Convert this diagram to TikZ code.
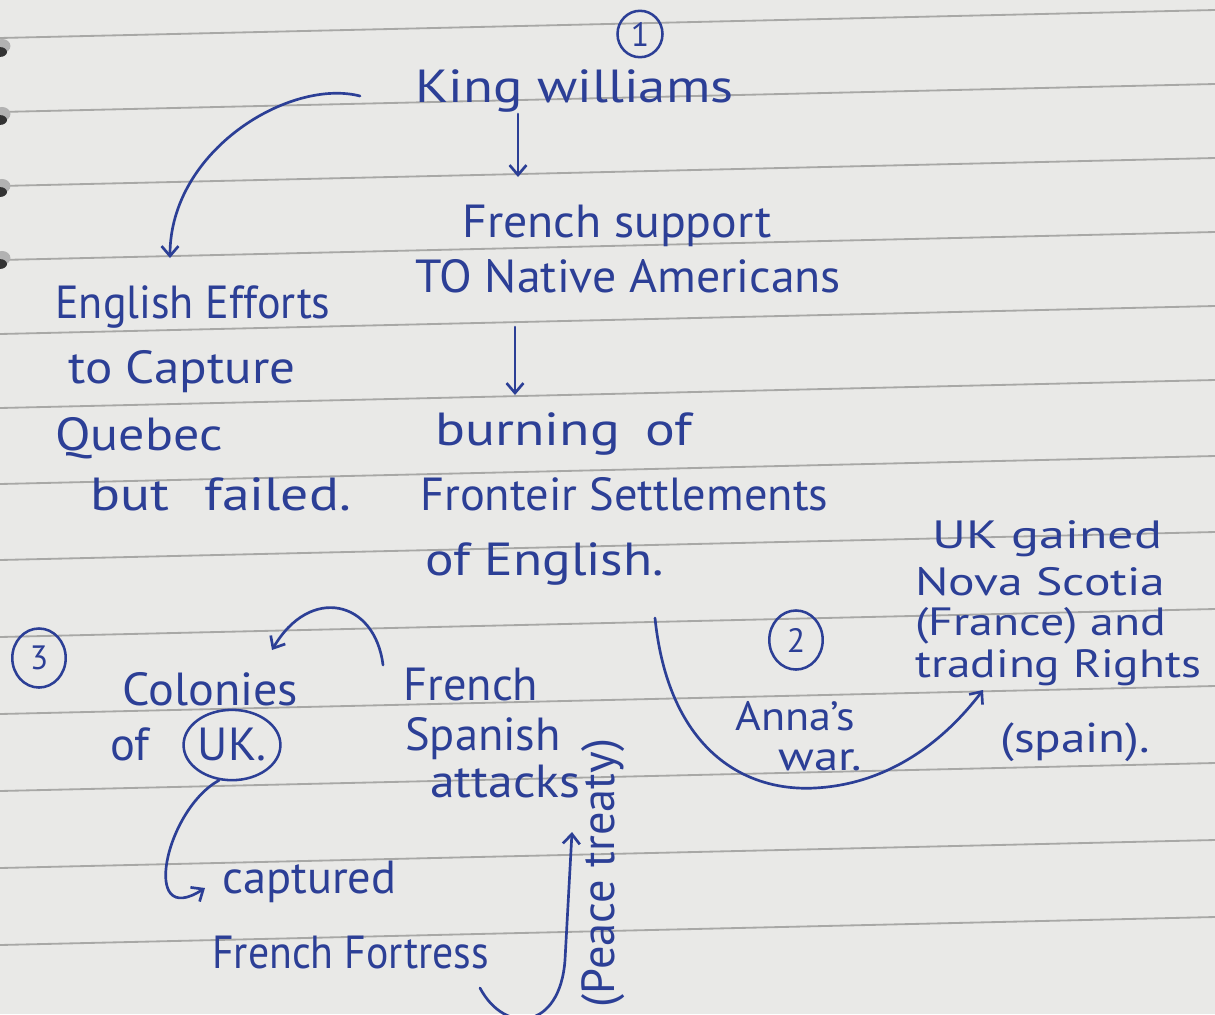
\documentclass[tikz,border=0pt]{standalone}
\usepackage{fontspec}
\setmainfont{PT Sans}
\usetikzlibrary{arrows.meta,shapes.geometric}
\definecolor{ink}{HTML}{2C3F96}
\definecolor{paper}{HTML}{E9E9E7}
\definecolor{rule}{HTML}{A8A8A6}
\begin{document}
\begin{tikzpicture}[x=0.025cm,y=-0.025cm,
  hand/.style={text=ink, font=\fontsize{33}{38}\selectfont, inner sep=0pt, anchor=base west},
  num/.style={draw=ink, text=ink, ellipse, line width=1.8pt, inner sep=0pt,
    font=\fontsize{24}{24}\selectfont},
  arr/.style={draw=ink, line width=1.9pt, line cap=round,
    -{Straight Barb[length=7pt,width=12pt,line width=1.9pt]}},
  ringed/.style={draw=ink, ellipse, line width=1.8pt}]
% paper and ruling
\fill[paper] (0,0) rectangle (1215,1014);
\useasboundingbox (0,0) rectangle (1215,1014);
\foreach \yl in {38,112,186,260,334,408,484,560,637,714,791,868,945}
  \draw[rule, line width=1.3pt] (0,\yl) -- (1215,\yl-28);
% spiral binding holes on the left edge
\foreach \yh in {50,118,190,262}{
  \fill[black!30] (2,\yh-4) ellipse [x radius=6pt, y radius=5pt];
  \fill[black!80] (0,\yh+2) ellipse [x radius=5pt, y radius=3.5pt];
}

% section numbers
\node[num, minimum width=32pt, minimum height=33pt] (n1) at (640,34) {1};
\node[num, minimum width=38pt, minimum height=42pt] (n3) at (39,658) {3};
\node[num, minimum width=38pt, minimum height=42pt] (n2) at (796,640) {2};

% central chain
\node[hand, xscale=1.18] (kw) at (415,102) {King williams};
\node[hand, xscale=1.03] (fs) at (462,237) {French support};
\node[hand, xscale=1.03] (na) at (415,292) {TO Native Americans};
\node[hand, xscale=1.2] (bo) at (435,445) {burning\hspace{6pt} of};
\node[hand] (fsl) at (420,510) {Fronteir Settlements};
\node[hand, xscale=1.15] (oe) at (425,575) {of English.};

% left column
\node[hand, xscale=0.95] (ee) at (55,318) {English Efforts};
\node[hand, xscale=1.1] (tc) at (68,383) {to Capture};
\node[hand, xscale=1.12] (qu) at (55,450) {Quebec};
\node[hand, xscale=1.2] (bf) at (90,510) {but\hspace{12pt} failed.};

% section 3
\node[hand, xscale=1.04] (co) at (122,705) {Colonies};
\node[hand] (of) at (110,760) {of};
\node[hand, anchor=center, ringed, inner sep=0pt,
  minimum width=54pt, minimum height=50pt] (uk) at (232,745) {UK.};
\node[hand] (fr) at (403,700) {French};
\node[hand] (sp) at (405,750) {Spanish};
\node[hand, xscale=1.07] (at) at (430,797) {attacks};
\node[hand] (ca) at (222,893) {captured};
\node[hand, xscale=0.9] (ff) at (212,968) {French Fortress};
\node[hand, anchor=center, rotate=90] (pt) at (603,873) {(Peace treaty)};

% section 2
\node[hand, xscale=1.12, yscale=0.85] (ug) at (932,548) {UK gained};
\node[hand, xscale=1.07, yscale=0.85] (ns) at (915,595) {Nova Scotia};
\node[hand, xscale=1.03, yscale=0.85] (fa) at (915,635) {(France) and};
\node[hand, xscale=1.02, yscale=0.85] (tr) at (915,677) {trading Rights};
\node[hand, xscale=1.06, yscale=0.9] (spn) at (1000,752) {(spain).};
\node[hand, xscale=0.95, yscale=0.88] (an) at (735,730) {Anna's};
\node[hand, xscale=1.05, yscale=0.88] (wa) at (778,770) {war.};

% connectors
\draw[arr] ([shift={(103,12)}]kw.base west) -- ([shift={(56,-60)}]fs.base west);
\draw[arr] ([shift={(100,35)}]na.base west) -- ([shift={(80,-50)}]bo.base west);
\draw[arr] ([shift={(-55,-6)}]kw.base west)
  .. controls (290,78) and (170,150) .. ([shift={(115,-60)}]ee.base west);
\draw[arr] ([shift={(-20,-35)}]fr.base west)
  .. controls (375,600) and (310,585) .. ([shift={(150,-55)}]co.base west);
\draw[arr] (uk.250) .. controls (165,810) and (140,930) .. ([shift={(-17,-5)}]ca.base west);
\draw[arr] ([shift={(268,20)}]ff.base west)
  .. controls (505,1035) and (560,1030) .. (565,960)
  -- ([shift={(142,35)}]at.base west);
\draw[arr] ([shift={(230,43)}]oe.base west)
  .. controls (668,745) and (740,792) .. (815,788)
  .. controls (890,784) and (945,740) .. ([shift={(68,13)}]tr.base west);
\end{tikzpicture}
\end{document}
